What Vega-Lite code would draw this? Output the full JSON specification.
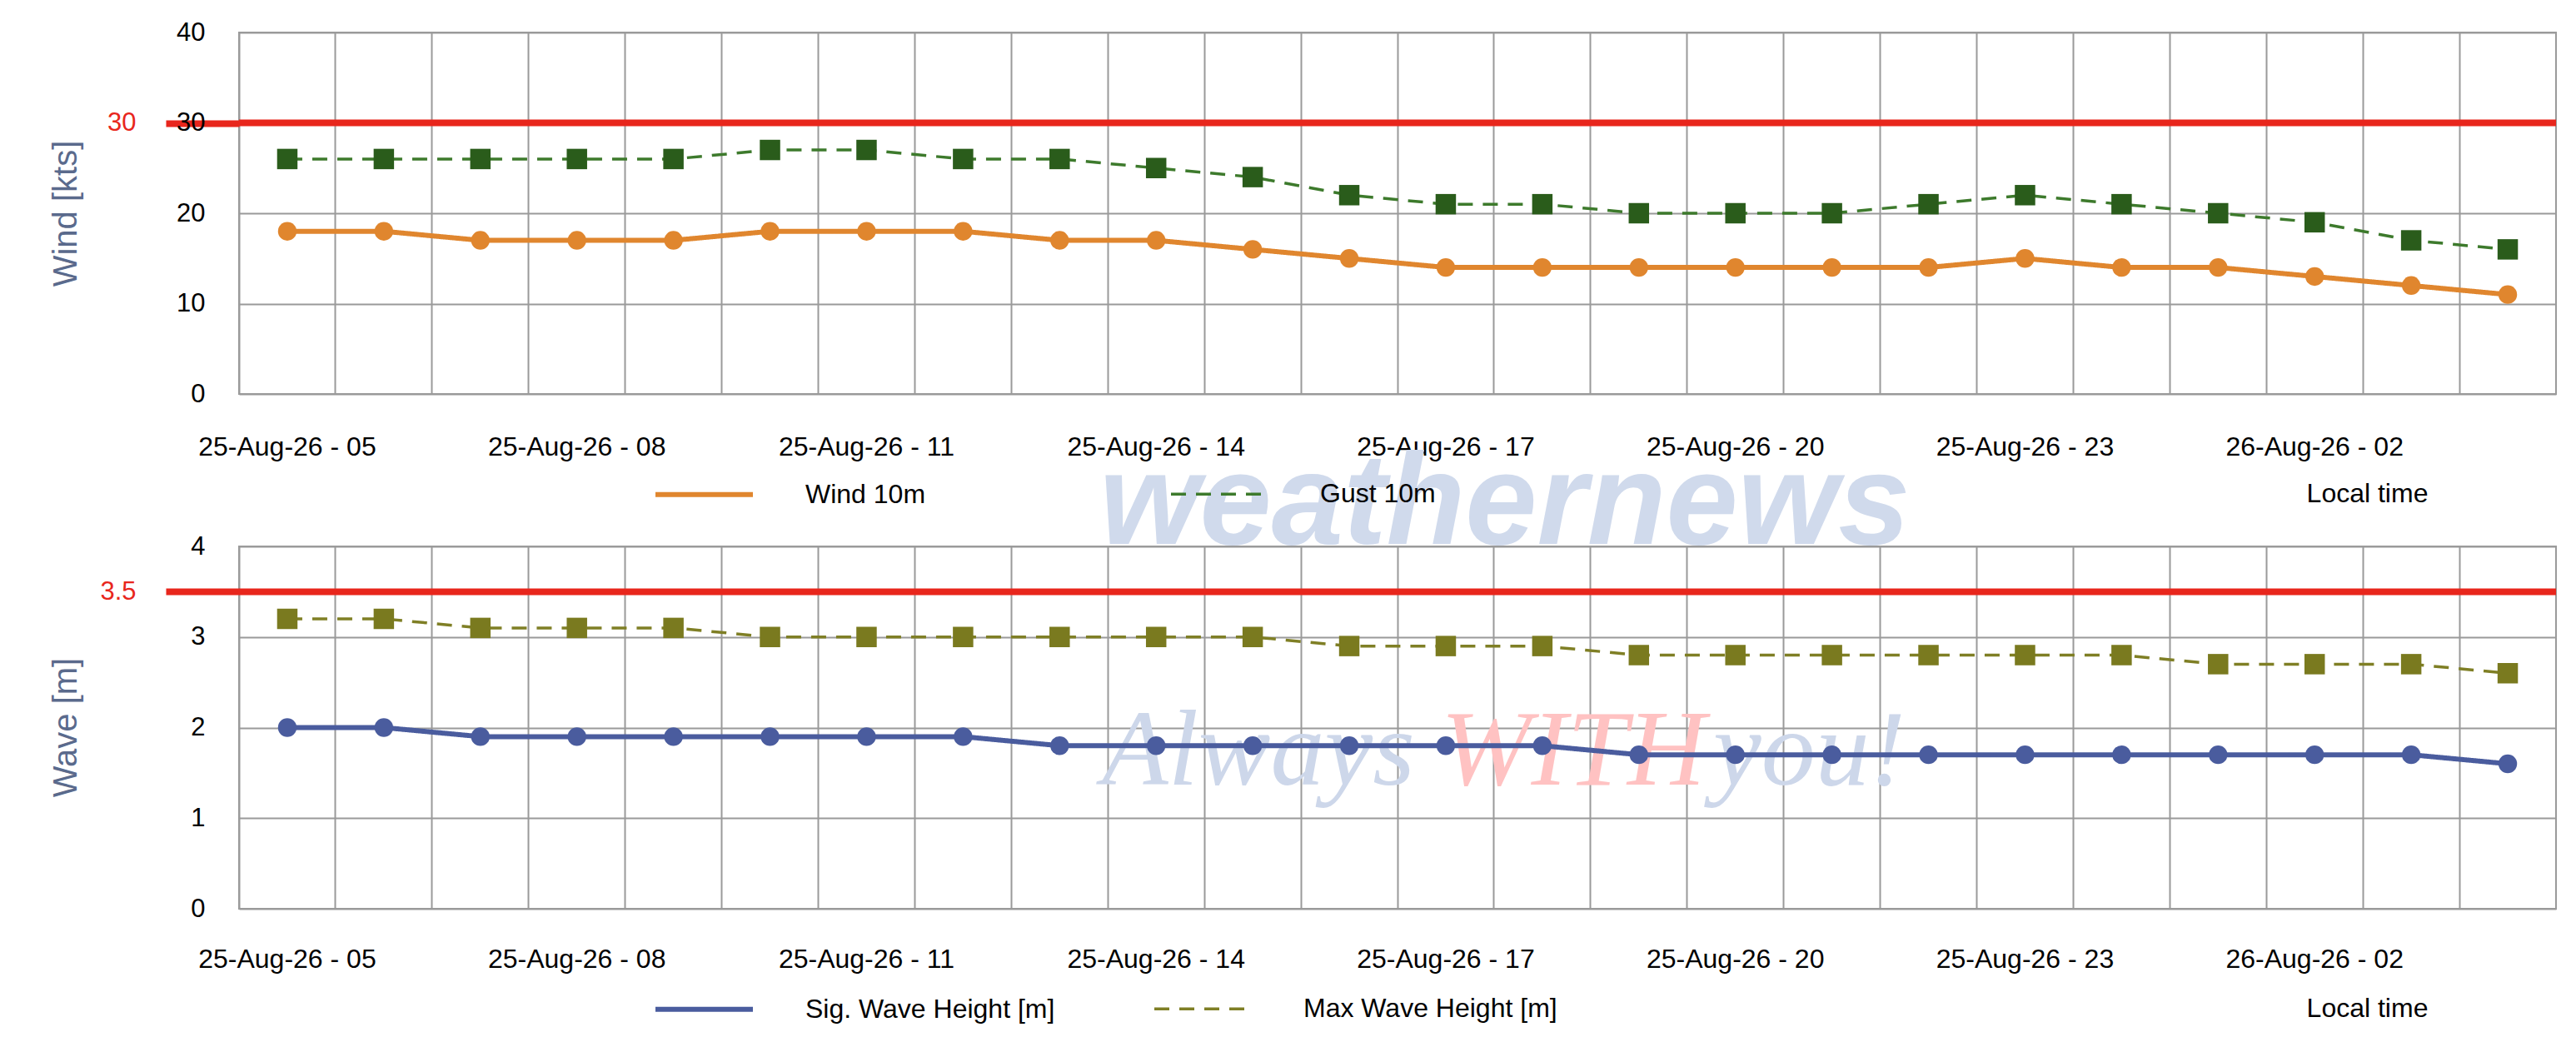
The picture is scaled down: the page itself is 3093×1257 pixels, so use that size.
{
  "$schema": "https://vega.github.io/schema/vega-lite/v6.json",
  "background": "white",
  "padding": {"left": 57, "top": 22, "right": 0, "bottom": 0},
  "config": {
    "font": "Liberation Sans",
    "view": {"stroke": "#9a9a9a", "strokeWidth": 2},
    "axis": {
      "labelFont": "Liberation Sans",
      "titleFont": "Liberation Sans",
      "labelColor": "#000000",
      "domain": false,
      "ticks": false,
      "gridColor": "#9a9a9a",
      "gridWidth": 2,
      "gridOpacity": 1
    },
    "axisX": {
      "zindex": 1, "labelAngle": 0, "labelOverlap": false, "labelLimit": 400, "labelFontSize": 32,
      "titleFontSize": 32, "titleFontWeight": "normal", "titleColor": "#000000"
    },
    "legend": {
      "orient": "none",
      "direction": "horizontal",
      "title": null,
      "symbolType": "stroke",
      "symbolSize": 13689,
      "labelFont": "Liberation Sans",
      "labelFontSize": 32,
      "labelColor": "#000000",
      "labelOffset": 60,
      "labelLimit": 600
    }
  },
  "datasets": {
    "forecast": [
      {"time": "25-Aug-26 - 05", "wind": 18, "gust": 26, "sig": 2.0, "max": 3.2},
      {"time": "25-Aug-26 - 06", "wind": 18, "gust": 26, "sig": 2.0, "max": 3.2},
      {"time": "25-Aug-26 - 07", "wind": 17, "gust": 26, "sig": 1.9, "max": 3.1},
      {"time": "25-Aug-26 - 08", "wind": 17, "gust": 26, "sig": 1.9, "max": 3.1},
      {"time": "25-Aug-26 - 09", "wind": 17, "gust": 26, "sig": 1.9, "max": 3.1},
      {"time": "25-Aug-26 - 10", "wind": 18, "gust": 27, "sig": 1.9, "max": 3.0},
      {"time": "25-Aug-26 - 11", "wind": 18, "gust": 27, "sig": 1.9, "max": 3.0},
      {"time": "25-Aug-26 - 12", "wind": 18, "gust": 26, "sig": 1.9, "max": 3.0},
      {"time": "25-Aug-26 - 13", "wind": 17, "gust": 26, "sig": 1.8, "max": 3.0},
      {"time": "25-Aug-26 - 14", "wind": 17, "gust": 25, "sig": 1.8, "max": 3.0},
      {"time": "25-Aug-26 - 15", "wind": 16, "gust": 24, "sig": 1.8, "max": 3.0},
      {"time": "25-Aug-26 - 16", "wind": 15, "gust": 22, "sig": 1.8, "max": 2.9},
      {"time": "25-Aug-26 - 17", "wind": 14, "gust": 21, "sig": 1.8, "max": 2.9},
      {"time": "25-Aug-26 - 18", "wind": 14, "gust": 21, "sig": 1.8, "max": 2.9},
      {"time": "25-Aug-26 - 19", "wind": 14, "gust": 20, "sig": 1.7, "max": 2.8},
      {"time": "25-Aug-26 - 20", "wind": 14, "gust": 20, "sig": 1.7, "max": 2.8},
      {"time": "25-Aug-26 - 21", "wind": 14, "gust": 20, "sig": 1.7, "max": 2.8},
      {"time": "25-Aug-26 - 22", "wind": 14, "gust": 21, "sig": 1.7, "max": 2.8},
      {"time": "25-Aug-26 - 23", "wind": 15, "gust": 22, "sig": 1.7, "max": 2.8},
      {"time": "26-Aug-26 - 00", "wind": 14, "gust": 21, "sig": 1.7, "max": 2.8},
      {"time": "26-Aug-26 - 01", "wind": 14, "gust": 20, "sig": 1.7, "max": 2.7},
      {"time": "26-Aug-26 - 02", "wind": 13, "gust": 19, "sig": 1.7, "max": 2.7},
      {"time": "26-Aug-26 - 03", "wind": 12, "gust": 17, "sig": 1.7, "max": 2.7},
      {"time": "26-Aug-26 - 04", "wind": 11, "gust": 16, "sig": 1.6, "max": 2.6}
    ]
  },
  "bounds": "flush",
  "spacing": 183,
  "resolve": {
    "scale": {
      "stroke": "independent",
      "strokeDash": "independent",
      "strokeWidth": "independent"
    }
  },
  "vconcat": [
    {
      "width": 2782,
      "height": 434,
      "data": {"name": "forecast"},
      "resolve": {"axis": {"x": "independent", "y": "independent"}},
      "layer": [
        {
          "data": {"values": [{"limit": 30}]},
          "mark": {"type": "rule", "color": "#e8261c", "strokeWidth": 8},
          "encoding": {
            "y": {
              "field": "limit", "type": "quantitative",
              "scale": {"domain": [0, 40]},
              "axis": {
                "orient": "left", "values": [30], "format": "d", "grid": false,
                "ticks": true, "tickSize": 88, "tickWidth": 8, "tickColor": "#e8261c",
                "labelColor": "#e8261c", "labelFontSize": 31, "labelPadding": 36, "title": null
              }
            }
          }
        },
        {
          "data": {"values": [{"wm": "weathernews"}]},
          "mark": {"type": "text", "font": "Liberation Sans", "fontSize": 155, "fontWeight": "bold", "fontStyle": "italic", "color": "#d0daec", "align": "center", "baseline": "alphabetic"},
          "encoding": {
            "x": {"datum": "25-Aug-26 - 18", "type": "nominal", "bandPosition": 0.11, "axis": null},
            "y": {"datum": -16.6, "type": "quantitative", "scale": {"domain": [0, 40]}, "axis": null},
            "text": {"field": "wm"}
          }
        },
        {
          "transform": [{"fold": ["wind", "gust"], "as": ["series", "value"]}],
          "mark": {"type": "line"},
          "encoding": {
            "x": {
              "field": "time", "type": "nominal",
              "scale": {
                "type": "band", "paddingInner": 0, "paddingOuter": 0,
                "domain": ["25-Aug-26 - 05", "25-Aug-26 - 06", "25-Aug-26 - 07", "25-Aug-26 - 08", "25-Aug-26 - 09", "25-Aug-26 - 10", "25-Aug-26 - 11", "25-Aug-26 - 12", "25-Aug-26 - 13", "25-Aug-26 - 14", "25-Aug-26 - 15", "25-Aug-26 - 16", "25-Aug-26 - 17", "25-Aug-26 - 18", "25-Aug-26 - 19", "25-Aug-26 - 20", "25-Aug-26 - 21", "25-Aug-26 - 22", "25-Aug-26 - 23", "26-Aug-26 - 00", "26-Aug-26 - 01", "26-Aug-26 - 02", "26-Aug-26 - 03", "26-Aug-26 - 04"]
              },
              "axis": {"orient": "bottom", "grid": true, "bandPosition": 0, "labels": false, "title": null}
            },
            "y": {
              "field": "value", "type": "quantitative",
              "scale": {"domain": [0, 40]},
              "axis": {
                "orient": "left", "values": [0, 10, 20, 30, 40], "format": "d", "grid": true,
                "labelFontSize": 31, "labelPadding": 41,
                "title": "Wind [kts]", "titleFontSize": 40, "titleFontWeight": "normal", "titleColor": "#5a6a8c",
                "titleX": -196, "titleY": 217, "titleAlign": "center", "titleBaseline": "alphabetic", "titleAngle": -90
              }
            },
            "stroke": {
              "field": "series", "type": "nominal",
              "scale": {"domain": ["wind", "gust"], "range": ["#e0862e", "#3d7a2c"]},
              "legend": {
                "legendX": 497, "legendY": 493, "columnPadding": 287,
                "labelExpr": "datum.label == 'wind' ? 'Wind 10m' : 'Gust 10m'"
              }
            },
            "strokeDash": {
              "field": "series", "type": "nominal",
              "scale": {"domain": ["wind", "gust"], "range": [[1, 0], [18, 12]]}
            },
            "strokeWidth": {
              "field": "series", "type": "nominal",
              "scale": {"type": "point", "padding": 0, "domain": ["wind", "gust"], "range": [6, 3.5]}
            }
          }
        },
        {
          "mark": {"type": "circle", "color": "#e0862e", "size": 500, "opacity": 1},
          "encoding": {
            "x": {
              "field": "time", "type": "nominal",
              "axis": {
                "orient": "bottom", "grid": false, "labelPadding": 48,
                "labelExpr": "indexof(['25-Aug-26 - 05','25-Aug-26 - 08','25-Aug-26 - 11','25-Aug-26 - 14','25-Aug-26 - 17','25-Aug-26 - 20','25-Aug-26 - 23','26-Aug-26 - 02'], datum.label) >= 0 ? datum.label : ''",
                "title": "Local time", "titleX": 2555, "titleY": 129, "titleAlign": "center", "titleBaseline": "alphabetic"
              }
            },
            "y": {"field": "wind", "type": "quantitative", "scale": {"domain": [0, 40]}, "axis": null}
          }
        },
        {
          "mark": {"type": "square", "color": "#2a5c1b", "size": 600, "opacity": 1},
          "encoding": {
            "x": {"field": "time", "type": "nominal", "axis": null},
            "y": {"field": "gust", "type": "quantitative", "scale": {"domain": [0, 40]}, "axis": null}
          }
        }
      ]
    },
    {
      "width": 2782,
      "height": 435,
      "data": {"name": "forecast"},
      "resolve": {"axis": {"x": "independent", "y": "independent"}},
      "layer": [
        {
          "data": {"values": [{"limit": 3.5}]},
          "mark": {"type": "rule", "color": "#e8261c", "strokeWidth": 8},
          "encoding": {
            "y": {
              "field": "limit", "type": "quantitative",
              "scale": {"domain": [0, 4]},
              "axis": {
                "orient": "left", "values": [3.5], "format": ".1f", "grid": false,
                "ticks": true, "tickSize": 88, "tickWidth": 8, "tickColor": "#e8261c",
                "labelColor": "#e8261c", "labelFontSize": 31, "labelPadding": 36, "title": null
              }
            }
          }
        },
        {
          "data": {"values": [{"wm": "Always"}]},
          "mark": {"type": "text", "font": "Liberation Serif", "fontSize": 130, "fontStyle": "italic", "color": "#cdd7ea", "align": "right", "baseline": "alphabetic"},
          "encoding": {
            "x": {"datum": "25-Aug-26 - 17", "type": "nominal", "bandPosition": 0.18, "axis": null},
            "y": {"datum": 1.37, "type": "quantitative", "scale": {"domain": [0, 4]}, "axis": null},
            "text": {"field": "wm"}
          }
        },
        {
          "data": {"values": [{"wm": "WITH"}]},
          "mark": {"type": "text", "font": "Liberation Serif", "fontSize": 130, "fontStyle": "italic", "color": "#ffc2c2", "align": "center", "baseline": "alphabetic"},
          "encoding": {
            "x": {"datum": "25-Aug-26 - 18", "type": "nominal", "bandPosition": 0.82, "axis": null},
            "y": {"datum": 1.37, "type": "quantitative", "scale": {"domain": [0, 4]}, "axis": null},
            "text": {"field": "wm"}
          }
        },
        {
          "data": {"values": [{"wm": "you!"}]},
          "mark": {"type": "text", "font": "Liberation Serif", "fontSize": 130, "fontStyle": "italic", "color": "#cdd7ea", "align": "left", "baseline": "alphabetic"},
          "encoding": {
            "x": {"datum": "25-Aug-26 - 20", "type": "nominal", "bandPosition": 0.27, "axis": null},
            "y": {"datum": 1.37, "type": "quantitative", "scale": {"domain": [0, 4]}, "axis": null},
            "text": {"field": "wm"}
          }
        },
        {
          "transform": [{"fold": ["sig", "max"], "as": ["series", "value"]}],
          "mark": {"type": "line"},
          "encoding": {
            "x": {
              "field": "time", "type": "nominal",
              "scale": {
                "type": "band", "paddingInner": 0, "paddingOuter": 0,
                "domain": ["25-Aug-26 - 05", "25-Aug-26 - 06", "25-Aug-26 - 07", "25-Aug-26 - 08", "25-Aug-26 - 09", "25-Aug-26 - 10", "25-Aug-26 - 11", "25-Aug-26 - 12", "25-Aug-26 - 13", "25-Aug-26 - 14", "25-Aug-26 - 15", "25-Aug-26 - 16", "25-Aug-26 - 17", "25-Aug-26 - 18", "25-Aug-26 - 19", "25-Aug-26 - 20", "25-Aug-26 - 21", "25-Aug-26 - 22", "25-Aug-26 - 23", "26-Aug-26 - 00", "26-Aug-26 - 01", "26-Aug-26 - 02", "26-Aug-26 - 03", "26-Aug-26 - 04"]
              },
              "axis": {"orient": "bottom", "grid": true, "bandPosition": 0, "labels": false, "title": null}
            },
            "y": {
              "field": "value", "type": "quantitative",
              "scale": {"domain": [0, 4]},
              "axis": {
                "orient": "left", "values": [0, 1, 2, 3, 4], "format": "d", "grid": true,
                "labelFontSize": 31, "labelPadding": 41,
                "title": "Wave [m]", "titleFontSize": 40, "titleFontWeight": "normal", "titleColor": "#5a6a8c",
                "titleX": -196, "titleY": 217, "titleAlign": "center", "titleBaseline": "alphabetic", "titleAngle": -90
              }
            },
            "stroke": {
              "field": "series", "type": "nominal",
              "scale": {"domain": ["sig", "max"], "range": ["#4a5c9e", "#7f7f25"]},
              "legend": {
                "legendX": 497, "legendY": 494, "columnPadding": 112,
                "labelExpr": "datum.label == 'sig' ? 'Sig. Wave Height [m]' : 'Max Wave Height [m]'"
              }
            },
            "strokeDash": {
              "field": "series", "type": "nominal",
              "scale": {"domain": ["sig", "max"], "range": [[1, 0], [18, 12]]}
            },
            "strokeWidth": {
              "field": "series", "type": "nominal",
              "scale": {"type": "point", "padding": 0, "domain": ["sig", "max"], "range": [6, 3.5]}
            }
          }
        },
        {
          "mark": {"type": "circle", "color": "#4a5c9e", "size": 500, "opacity": 1},
          "encoding": {
            "x": {
              "field": "time", "type": "nominal",
              "axis": {
                "orient": "bottom", "grid": false, "labelPadding": 45,
                "labelExpr": "indexof(['25-Aug-26 - 05','25-Aug-26 - 08','25-Aug-26 - 11','25-Aug-26 - 14','25-Aug-26 - 17','25-Aug-26 - 20','25-Aug-26 - 23','26-Aug-26 - 02'], datum.label) >= 0 ? datum.label : ''",
                "title": "Local time", "titleX": 2555, "titleY": 129, "titleAlign": "center", "titleBaseline": "alphabetic"
              }
            },
            "y": {"field": "sig", "type": "quantitative", "scale": {"domain": [0, 4]}, "axis": null}
          }
        },
        {
          "mark": {"type": "square", "color": "#7a7a1f", "size": 600, "opacity": 1},
          "encoding": {
            "x": {"field": "time", "type": "nominal", "axis": null},
            "y": {"field": "max", "type": "quantitative", "scale": {"domain": [0, 4]}, "axis": null}
          }
        }
      ]
    }
  ]
}
